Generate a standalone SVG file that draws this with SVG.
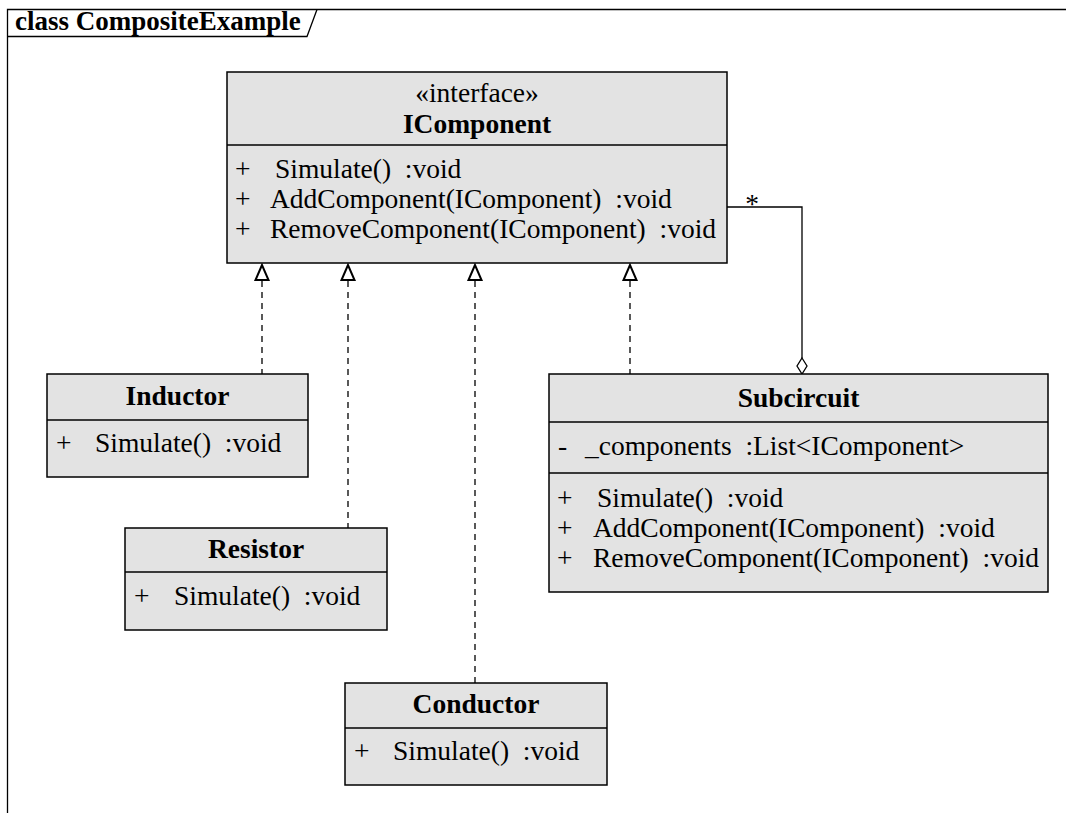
<svg xmlns="http://www.w3.org/2000/svg" width="1066" height="813" viewBox="0 0 1066 813">
<style>
text{font-family:"Liberation Serif","Times New Roman",serif;font-size:27.5px;fill:#000;white-space:pre}
.b{font-weight:bold}
.m{text-anchor:middle}
.box{fill:#e3e3e3;stroke:#000;stroke-width:1.5}
.div{stroke:#000;stroke-width:1.5}
.dash{stroke:#000;stroke-width:1.3;stroke-dasharray:6,5;fill:none}
.line{stroke:#000;stroke-width:1.3;fill:none}
.tri{fill:#fff;stroke:#000;stroke-width:2}
</style>
<rect width="1066" height="813" fill="#fff"/>
<g id="frame">
<path d="M7.5,813 V9.5 H1066" class="line" stroke-width="1.5"/>
<path d="M7.5,36.5 H307 L317,9.5" class="line" stroke-width="1.3"/>
<text x="15" y="30" class="b" style="font-size:27px">class CompositeExample</text>
</g>
<g id="connectors">
<path d="M262,281 V374" class="dash"/>
<path d="M348,281 V528" class="dash"/>
<path d="M475,281 V683" class="dash"/>
<path d="M630,281 V374" class="dash"/>
<polygon points="262,265 255.5,280 268.5,280" class="tri"/>
<polygon points="348,265 341.5,280 354.5,280" class="tri"/>
<polygon points="475,265 468.5,280 481.5,280" class="tri"/>
<polygon points="630,265 623.5,280 636.5,280" class="tri"/>
<path d="M727,207 H802 V358" class="line"/>
<polygon points="802,358 807,366 802,374 797,366" fill="#fff" stroke="#000" stroke-width="1.3"/>
<text x="752" y="213" class="m">*</text>
</g>
<g id="IComponent">
<rect x="227" y="72" width="500" height="191" class="box"/>
<line x1="227" y1="145" x2="727" y2="145" class="div"/>
<text x="477" y="102" class="m">«interface»</text>
<text x="477" y="133" class="b m">IComponent</text>
<text x="235" y="178">+</text><text x="275" y="178">Simulate()  :void</text>
<text x="235" y="208">+</text><text x="270" y="208">AddComponent(IComponent)  :void</text>
<text x="235" y="238">+</text><text x="270" y="238">RemoveComponent(IComponent)  :void</text>
</g>
<g id="Inductor">
<rect x="47" y="374" width="261" height="103" class="box"/>
<line x1="47" y1="420" x2="308" y2="420" class="div"/>
<text x="177.5" y="405" class="b m">Inductor</text>
<text x="56" y="452">+</text><text x="95" y="452">Simulate()  :void</text>
</g>
<g id="Resistor">
<rect x="125" y="528" width="262" height="102" class="box"/>
<line x1="125" y1="572" x2="387" y2="572" class="div"/>
<text x="256" y="558" class="b m">Resistor</text>
<text x="134" y="605">+</text><text x="174" y="605">Simulate()  :void</text>
</g>
<g id="Conductor">
<rect x="345" y="683" width="262" height="102" class="box"/>
<line x1="345" y1="728" x2="607" y2="728" class="div"/>
<text x="476" y="713" class="b m">Conductor</text>
<text x="354" y="760">+</text><text x="393" y="760">Simulate()  :void</text>
</g>
<g id="Subcircuit">
<rect x="549" y="374" width="499" height="218" class="box"/>
<line x1="549" y1="422" x2="1048" y2="422" class="div"/>
<line x1="549" y1="473" x2="1048" y2="473" class="div"/>
<text x="798.5" y="407" class="b m">Subcircuit</text>
<text x="558" y="455">-</text><text x="585" y="455">_components  :List&lt;IComponent&gt;</text>
<text x="557" y="507">+</text><text x="597" y="507">Simulate()  :void</text>
<text x="557" y="537">+</text><text x="593" y="537">AddComponent(IComponent)  :void</text>
<text x="557" y="567">+</text><text x="593" y="567">RemoveComponent(IComponent)  :void</text>
</g>
</svg>
